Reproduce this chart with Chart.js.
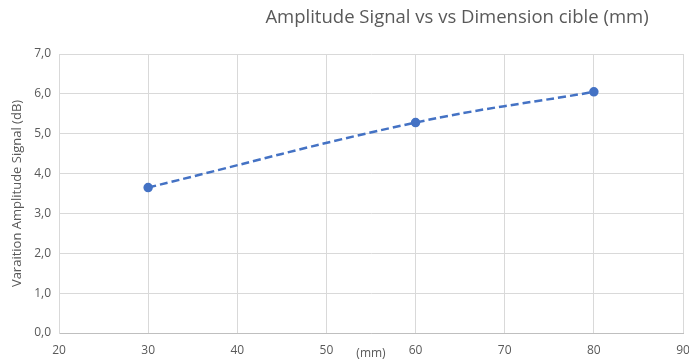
<!DOCTYPE html>
<html>
<head>
<meta charset="utf-8">
<script src="https://cdn.jsdelivr.net/npm/chart.js@4/dist/chart.umd.min.js"></script>
<style>
  html, body { margin: 0; padding: 0; background: #fff; }
  #wrap { width: 689px; height: 360px; }
</style>
</head>
<body>
<div id="wrap"><canvas id="chartAmp"></canvas></div>
<script>
// valeurs
const dimensions = [30, 60, 80];
const amplitudes = [3.65, 5.28, 6.05];
const titre = "Amplitude Signal vs vs Dimension cible (mm)";
const titreY = "Varaition Amplitude Signal (dB)";
const titreX = "(mm)";

const gris = "#595959";
const police = "'Open Sans', sans-serif";

// titre et label (mm) dessinés à la main, comme sur l'original
const textesPlugin = {
    id: "textes",
    afterDraw(chart) {
        const ctx = chart.ctx;
        const area = chart.chartArea;
        ctx.save();
        ctx.fillStyle = gris;
        ctx.textAlign = "center";
        ctx.textBaseline = "middle";
        ctx.font = "18.5px " + police;
        ctx.fillText(titre, 457, 18);
        ctx.font = "12px " + police;
        ctx.fillText(titreX, (area.left + area.right) / 2, 354);
        ctx.restore();
    }
};

new Chart(document.getElementById("chartAmp"), {
    type: "line",
    data: {
        datasets: [{
            label: "Amplitude",
            data: dimensions.map((d, i) => ({ x: d, y: amplitudes[i] })),
            borderColor: "#4472C4",
            backgroundColor: "#4472C4",
            borderWidth: 2.5,
            borderDash: [8, 4],
            tension: 0.4,
            pointRadius: 3.5,
            pointHoverRadius: 3.5,
            fill: false
        }]
    },
    options: {
        responsive: true,
        maintainAspectRatio: false,
        animation: false,
        layout: { padding: { top: 54, right: 4, left: 0, bottom: 0 } },
        plugins: {
            legend: { display: false },
            tooltip: { enabled: false },
            title: { display: false }
        },
        scales: {
            x: {
                type: "linear",
                min: 20,
                max: 90,
                ticks: {
                    stepSize: 10,
                    color: gris,
                    font: { family: police, size: 12 },
                    padding: 10
                },
                grid: { color: "#d9d9d9", drawTicks: false },
                border: { color: "#bfbfbf" },
                afterFit(scale) {
                    scale.height = 27;
                    scale.paddingRight = 0;
                    scale.paddingLeft = 0;
                }
            },
            y: {
                min: 0,
                max: 7,
                ticks: {
                    stepSize: 1,
                    color: gris,
                    font: { family: police, size: 12 },
                    padding: 8,
                    callback: v => v.toFixed(1).replace(".", ",")
                },
                grid: { color: "#d9d9d9", drawTicks: false },
                border: { color: "#d9d9d9" },
                title: {
                    display: true,
                    text: titreY,
                    color: gris,
                    font: { family: police, size: 13 },
                    padding: { top: 9, bottom: 0 }
                },
                afterFit(scale) {
                    scale.width = 59;
                    scale.paddingTop = 0;
                    scale.paddingBottom = 0;
                }
            }
        }
    },
    plugins: [textesPlugin]
});
</script>
</body>
</html>
